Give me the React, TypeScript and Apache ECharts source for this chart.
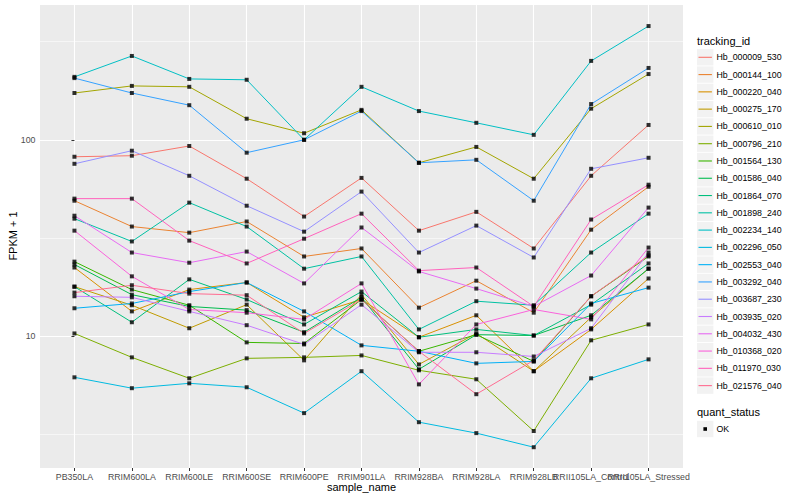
import React, { useEffect, useRef } from "react";
import * as echarts from "echarts";

const sampleNames = [
  "PB350LA", "RRIM600LA", "RRIM600LE", "RRIM600SE", "RRIM600PE", "RRIM901LA",
  "RRIM928BA", "RRIM928LA", "RRIM928LB", "RRII105LA_Control", "RRII105LA_Stressed",
];

const trackingIds = [
  "Hb_000009_530", "Hb_000144_100", "Hb_000220_040", "Hb_000275_170", "Hb_000610_010",
  "Hb_000796_210", "Hb_001564_130", "Hb_001586_040", "Hb_001864_070", "Hb_001898_240",
  "Hb_002234_140", "Hb_002296_050", "Hb_002553_040", "Hb_003292_040", "Hb_003687_230",
  "Hb_003935_020", "Hb_004032_430", "Hb_010368_020", "Hb_011970_030", "Hb_021576_040",
];

const trackingColors = [
  "#F8766D", "#EA8331", "#D89000", "#C09B00", "#A3A500",
  "#7CAE00", "#39B600", "#00BB4E", "#00BF7D", "#00C1A3",
  "#00BFC4", "#00BAE0", "#00B0F6", "#35A2FF", "#9590FF",
  "#C77CFF", "#E76BF3", "#FA62DB", "#FF62BC", "#FF6C91",
];

// FPKM + 1 per sample (order of sampleNames)
const hb000009_530 = [82, 83, 93, 63.4, 40.7, 64, 34.5, 43, 28, 65.6, 119];
const hb000144_100 = [49, 36.2, 33.7, 38.4, 25.5, 28, 14.0, 19.2, 13.2, 34.9, 57.7];
const hb000220_040 = [22.4, 13.4, 17.3, 18.8, 12.5, 15.4, 9.9, 12.8, 6.65, 10.85, 19.7];
const hb000275_170 = [17.9, 14.4, 11.0, 14.5, 7.55, 16.3, 7.2, 10.35, 6.65, 12.5, 22.1];
const hb000610_010 = [173, 188, 186, 128, 108, 142, 76.4, 92, 63.4, 144, 216];
const hb000796_210 = [10.35, 7.82, 6.12, 7.73, 7.82, 8.0, 6.72, 6.05, 3.3, 9.55, 11.5];
const hb001564_130 = [24.0, 17.3, 14.4, 9.32, 9.2, 15.4, 8.4, 10.2, 7.46, 16.0, 25.5];
const hb001586_040 = [23.2, 16.3, 14.2, 13.6, 10.5, 15.8, 6.8, 10.2, 10.1, 12.8, 22.1];
const hb001864_070 = [17.9, 11.8, 19.5, 15.4, 11.5, 16.9, 9.9, 10.85, 10.1, 14.5, 23.5];
const hb001898_240 = [39.7, 30.4, 47.9, 36.2, 22.1, 25.5, 10.85, 15.1, 14.4, 26.7, 42.1];
const hb002234_140 = [209, 267, 204, 202, 100, 186, 140, 122, 106, 252, 379];
const hb002296_050 = [6.19, 5.45, 5.77, 5.51, 4.07, 6.65, 3.66, 3.22, 2.73, 6.12, 7.64];
const hb002553_040 = [13.9, 14.7, 16.9, 18.8, 13.4, 9.0, 8.4, 7.29, 7.46, 14.7, 17.7];
const hb003292_040 = [206, 173, 150, 86, 100, 140, 76.4, 79.1, 49, 152, 232];
const hb003687_230 = [75.5, 88, 65.6, 46.2, 34.1, 54.5, 26.7, 36.6, 25.2, 71.2, 81];
const hb003935_020 = [16.0, 15.8, 13.4, 11.4, 9.1, 14.5, 8.3, 8.3, 7.9, 11.0, 26.7];
const hb004032_430 = [41.1, 26.7, 23.7, 27, 18.6, 35.8, 21.4, 17.5, 14.2, 20.4, 45.2];
const hb010368_020 = [34.5, 20.2, 13.7, 13.2, 12.2, 18.6, 5.7, 11.5, 13.7, 12.2, 28.3];
const hb011970_030 = [50.2, 50.2, 30.7, 23.5, 31.4, 42.1, 21.6, 22.4, 14.2, 39.3, 59.1];
const hb021576_040 = [16.7, 18.2, 16.5, 16.2, 10.35, 15.4, 8.4, 5.08, 7.55, 16.0, 25.8];

const fpkmValues = [
  hb000009_530, hb000144_100, hb000220_040, hb000275_170, hb000610_010,
  hb000796_210, hb001564_130, hb001586_040, hb001864_070, hb001898_240,
  hb002234_140, hb002296_050, hb002553_040, hb003292_040, hb003687_230,
  hb003935_020, hb004032_430, hb010368_020, hb011970_030, hb021576_040,
];

const yTickValues = [10, 100];
const yMinorValues = [3.1623, 31.623, 316.23];
const quantStatus = ["OK"];

const Y_MIN = 2.14;
const Y_MAX = 485;
const FONT = "'Liberation Sans', Arial, Helvetica, sans-serif";

export default function App() {
  const ref = useRef<HTMLDivElement>(null);

  useEffect(() => {
    const chart = echarts.init(ref.current!, null, { renderer: "svg" });
    const xIndex = sampleNames.map((_, i) => i);

    const lineSeries: any[] = trackingIds.map((id, k) => ({
      name: id,
      type: "line",
      z: 2,
      silent: true,
      symbol: "none",
      showSymbol: false,
      data: fpkmValues[k].map((v, i) => [i, v]),
      lineStyle: { color: trackingColors[k], width: 1 },
      itemStyle: { color: trackingColors[k] },
    }));

    const pointData: number[][] = [];
    fpkmValues.forEach((arr) => arr.forEach((v, i) => pointData.push([i, v])));

    const option: any = {
      animation: false,
      backgroundColor: "#FFFFFF",
      grid: {
        left: 40, top: 5, width: 643, height: 463,
        show: true, backgroundColor: "#EBEBEB", borderWidth: 0,
      },
      xAxis: {
        type: "value",
        min: -0.6,
        max: 10.6,
        axisLine: { show: false },
        axisTick: { show: true, length: 3, lineStyle: { color: "#333333", width: 1 }, customValues: xIndex },
        axisLabel: { show: false },
        splitLine: { show: true, lineStyle: { color: "#FFFFFF", width: 1.1 } },
      },
      yAxis: {
        type: "log",
        logBase: 10,
        min: Y_MIN,
        max: Y_MAX,
        axisLine: { show: false },
        axisTick: { show: true, length: 3, lineStyle: { color: "#333333", width: 1 }, customValues: yTickValues },
        axisLabel: {
          show: true, customValues: yTickValues, margin: 4.5,
          showMinLabel: true, showMaxLabel: true,
          fontSize: 8.8, fontFamily: FONT, color: "#4D4D4D",
          formatter: (v: number) => String(Math.round(v)),
        },
        splitLine: { show: true, lineStyle: { color: "#FFFFFF", width: 1.1 } },
        minorSplitLine: { show: false },
      },
      series: [
        {
          type: "line",
          z: 1,
          silent: true,
          data: [],
          markLine: {
            silent: true,
            z: 1,
            symbol: ["none", "none"],
            label: { show: false },
            lineStyle: { color: "#FFFFFF", width: 0.55, type: "solid" },
            data: yMinorValues.map((v) => ({ yAxis: v })),
          },
        },
        ...lineSeries,
        {
          type: "scatter",
          z: 3,
          silent: true,
          symbol: "rect",
          symbolSize: 4,
          itemStyle: { color: "#000000" },
          data: pointData,
        },
      ],
    };

    chart.setOption(option);

    const graphics: any[] = [];
    // x tick labels placed through the x scale
    sampleNames.forEach((name, i) => {
      const p = chart.convertToPixel({ gridIndex: 0 }, [i, Y_MIN]) as number[];
      graphics.push({
        type: "text", x: p[0], y: p[1] + 9.2,
        style: { text: name, fontSize: 8.8, fontFamily: FONT, fill: "#4D4D4D", align: "center", verticalAlign: "middle" },
      });
    });
    graphics.push({
      type: "text", x: 13, y: 236, rotation: Math.PI / 2,
      style: { text: "FPKM + 1", fontSize: 11, fontFamily: FONT, fill: "#000", align: "center", verticalAlign: "middle" },
    });
    graphics.push({
      type: "text", x: 361.5, y: 487,
      style: { text: "sample_name", fontSize: 11, fontFamily: FONT, fill: "#000", align: "center", verticalAlign: "middle" },
    });
    graphics.push({
      type: "text", x: 697, y: 40.7,
      style: { text: "tracking_id", fontSize: 11, fontFamily: FONT, fill: "#000", align: "left", verticalAlign: "middle" },
    });
    trackingIds.forEach((id, k) => {
      const cy = 57.3 + 17.28 * k;
      graphics.push({ type: "rect", shape: { x: 697, y: cy - 8.2, width: 16.4, height: 16.4 }, style: { fill: "#F2F2F2" } });
      graphics.push({ type: "line", shape: { x1: 698.5, y1: cy, x2: 711.9, y2: cy }, style: { stroke: trackingColors[k], lineWidth: 1.1 } });
      graphics.push({
        type: "text", x: 716.5, y: cy,
        style: { text: id, fontSize: 8.8, fontFamily: FONT, fill: "#000", align: "left", verticalAlign: "middle" },
      });
    });
    graphics.push({
      type: "text", x: 697, y: 412.3,
      style: { text: "quant_status", fontSize: 11, fontFamily: FONT, fill: "#000", align: "left", verticalAlign: "middle" },
    });
    quantStatus.forEach((q, k) => {
      const cy = 429 + 17.28 * k;
      graphics.push({ type: "rect", shape: { x: 697, y: cy - 8.2, width: 16.4, height: 16.4 }, style: { fill: "#F2F2F2" } });
      graphics.push({ type: "rect", shape: { x: 703.4, y: cy - 1.8, width: 3.6, height: 3.6 }, style: { fill: "#000" } });
      graphics.push({
        type: "text", x: 716.5, y: cy,
        style: { text: q, fontSize: 8.8, fontFamily: FONT, fill: "#000", align: "left", verticalAlign: "middle" },
      });
    });

    chart.setOption({ graphic: graphics });
    return () => chart.dispose();
  }, []);

  return (
    <div
      ref={ref}
      style={{ position: "fixed", left: 0, top: 0, width: 800, height: 500, background: "#fff" }}
    />
  );
}
